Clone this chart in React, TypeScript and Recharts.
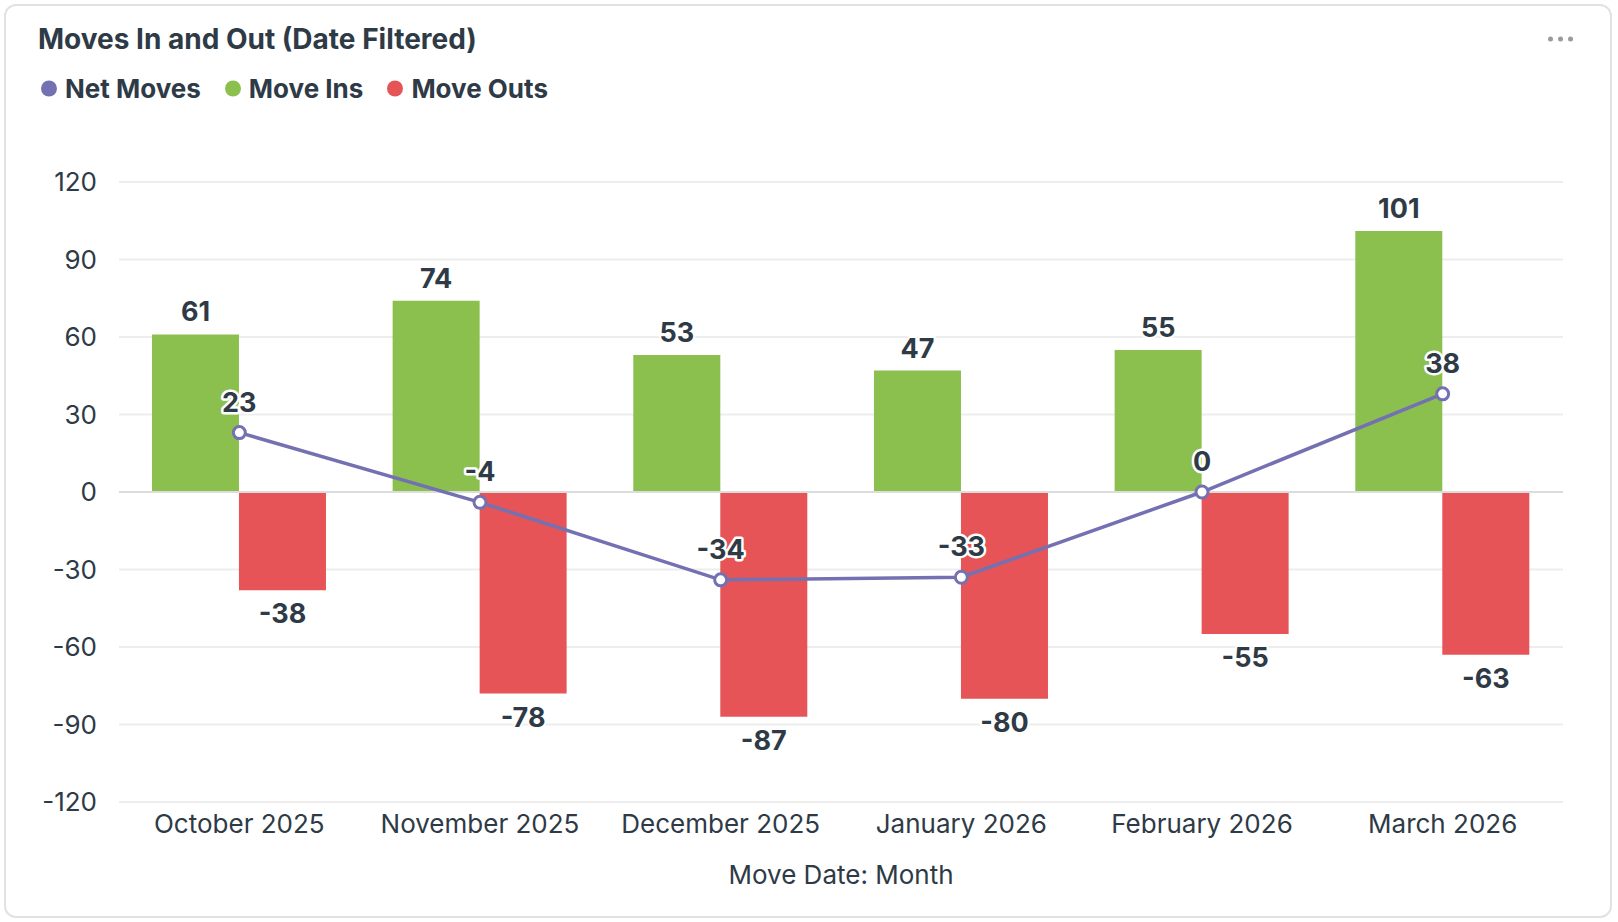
import React from "react";
import {
  ComposedChart,
  Bar,
  Line,
  XAxis,
  YAxis,
  CartesianGrid,
  ReferenceLine,
  LabelList,
} from "recharts";

const months = [
  "October 2025",
  "November 2025",
  "December 2025",
  "January 2026",
  "February 2026",
  "March 2026",
];
const moveIns = [61, 74, 53, 47, 55, 101];
const moveOuts = [-38, -78, -87, -80, -55, -63];
const netMoves = [23, -4, -34, -33, 0, 38];
const yTicks = [-120, -90, -60, -30, 0, 30, 60, 90, 120];

const seriesNames = ["Net Moves", "Move Ins", "Move Outs"];
const seriesColors = ["#7471b3", "#8bbf4e", "#e65457"];

const data = months.map((m, i) => ({
  month: m,
  ins: moveIns[i],
  outs: moveOuts[i],
  net: netMoves[i],
}));

const textColor = "#2e3a46";
const font = "Inter, 'Noto Sans', sans-serif";

const BarValue = (props: any) => {
  const { x, y, width, height, value } = props;
  const top = Math.min(y, y + height);
  const bottom = Math.max(y, y + height);
  const ty = value >= 0 ? top - 13 : bottom + 33;
  return (
    <text
      x={x + width / 2}
      y={ty}
      textAnchor="middle"
      fontSize={27}
      fontWeight={700}
      fill={textColor}
      stroke="#fff"
      strokeWidth={4}
      paintOrder="stroke"
      fontFamily={font}
    >
      {value}
    </text>
  );
};

const NetValue = (props: any) => {
  const { x, y, value } = props;
  return (
    <text
      x={x}
      y={y - 21}
      textAnchor="middle"
      fontSize={27}
      fontWeight={700}
      fill={textColor}
      stroke="#fff"
      strokeWidth={5}
      strokeLinejoin="round"
      paintOrder="stroke"
      fontFamily={font}
    >
      {value}
    </text>
  );
};

export default function App() {
  return (
    <div
      style={{
        position: "absolute",
        left: 4,
        top: 4,
        width: 1604,
        height: 910,
        border: "2px solid #e2e2e2",
        borderRadius: 12,
        background: "#fff",
        fontFamily: font,
        color: textColor,
      }}
    >
      <div
        style={{
          position: "absolute",
          left: 32,
          top: 33,
          transform: "translateY(-50%)",
          fontSize: 28,
          fontWeight: 700,
          whiteSpace: "nowrap",
        }}
      >
        Moves In and Out (Date Filtered)
      </div>
      <div
        style={{
          position: "absolute",
          left: 1542,
          top: 33,
          transform: "translateY(-50%)",
          display: "flex",
          gap: 5,
        }}
      >
        {[0, 1, 2].map((k) => (
          <span
            key={k}
            style={{ width: 5, height: 5, borderRadius: 3, background: "#9a9a9a", display: "block" }}
          />
        ))}
      </div>
      <div
        style={{
          position: "absolute",
          left: 35,
          top: 82,
          transform: "translateY(-50%)",
          display: "flex",
          alignItems: "center",
          fontSize: 26,
          fontWeight: 700,
          whiteSpace: "nowrap",
        }}
      >
        {seriesNames.map((name, i) => (
          <div key={name} style={{ display: "flex", alignItems: "center", marginRight: 24 }}>
            <span
              style={{
                width: 16,
                height: 16,
                borderRadius: 8,
                background: seriesColors[i],
                display: "block",
                marginRight: 8,
              }}
            />
            <span>{name}</span>
          </div>
        ))}
      </div>
      <div style={{ position: "absolute", left: 0, top: 0 }}>
        <ComposedChart
          width={1604}
          height={908}
          data={data}
          margin={{ top: 176, right: 47, bottom: 52, left: 0 }}
          barCategoryGap="13.7%"
          barGap={0}
        >
          <CartesianGrid vertical={false} stroke="#ededed" strokeWidth={2} />
          <ReferenceLine y={0} stroke="#dcdcdc" strokeWidth={2} />
          <XAxis
            dataKey="month"
            axisLine={false}
            tickLine={false}
            tickSize={0}
            tickMargin={13}
            height={60}
            interval={0}
            tick={{ fontSize: 26, fill: textColor, fontFamily: font }}
          />
          <YAxis
            domain={[-120, 120]}
            ticks={yTicks}
            axisLine={false}
            tickLine={false}
            tickSize={0}
            tickMargin={22}
            width={113}
            interval={0}
            tick={{ fontSize: 26, fill: textColor, fontFamily: font }}
          />
          <Bar dataKey="ins" name={seriesNames[1]} fill={seriesColors[1]} isAnimationActive={false}>
            <LabelList dataKey="ins" content={BarValue} />
          </Bar>
          <Bar dataKey="outs" name={seriesNames[2]} fill={seriesColors[2]} isAnimationActive={false}>
            <LabelList dataKey="outs" content={BarValue} />
          </Bar>
          <Line
            dataKey="net"
            name={seriesNames[0]}
            stroke={seriesColors[0]}
            strokeWidth={3.5}
            dot={{ r: 6, fill: "#fff", stroke: seriesColors[0], strokeWidth: 3 }}
            activeDot={false}
            isAnimationActive={false}
          >
            <LabelList dataKey="net" content={NetValue} />
          </Line>
        </ComposedChart>
      </div>
      <div
        style={{
          position: "absolute",
          left: 835,
          top: 868,
          transform: "translate(-50%, -50%)",
          fontSize: 26,
          whiteSpace: "nowrap",
        }}
      >
        Move Date: Month
      </div>
    </div>
  );
}
